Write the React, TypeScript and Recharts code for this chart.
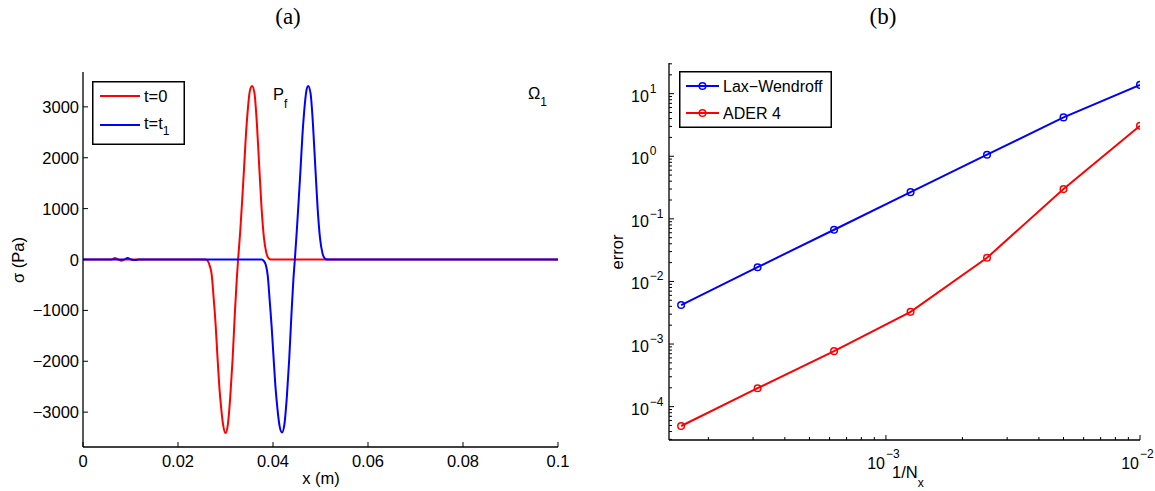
import React from "react";
import { LineChart, Line, XAxis, YAxis, Legend } from "recharts";

const SANS = '"Liberation Sans", Arial, Helvetica, sans-serif';
const SERIF = '"Liberation Serif", "Times New Roman", serif';
const RED = "#ff0000";
const BLUE = "#0000ff";
const INK = "#000";

// (a) stress sigma (Pa) along x (m), at t=0 and t=t1
const xT0 = [0, 0.006, 0.0067, 0.0074, 0.0081, 0.0088, 0.0258, 0.0263, 0.0267, 0.0271, 0.0275, 0.0279, 0.0283, 0.0287, 0.0291, 0.0295, 0.03, 0.0305, 0.031, 0.0315, 0.032, 0.0324, 0.03265, 0.0331, 0.0335, 0.0339, 0.0343, 0.0347, 0.0351, 0.0356, 0.0361, 0.0366, 0.0371, 0.0376, 0.0381, 0.0386, 0.0391, 0.0396, 0.1];
const sigmaT0 = [0, 0, 30, 0, -25, 0, 0, -30, -130, -300, -750, -1250, -1900, -2500, -2930, -3250, -3410, -3240, -2700, -1950, -1000, -350, 0, 550, 1150, 1780, 2450, 2950, 3300, 3410, 3270, 2680, 1830, 1000, 420, 130, 20, 0, 0];
const xT1 = [0, 0.0086, 0.0094, 0.0101, 0.011, 0.0118, 0.0376, 0.0381, 0.0385, 0.0389, 0.0393, 0.0397, 0.0401, 0.0405, 0.0409, 0.0414, 0.0419, 0.0424, 0.0429, 0.0434, 0.0439, 0.0443, 0.0446, 0.045, 0.0454, 0.0458, 0.0462, 0.0466, 0.047, 0.0474, 0.0479, 0.0484, 0.0489, 0.0494, 0.0499, 0.0504, 0.0509, 0.0514, 0.1];
const sigmaT1 = [0, 0, 30, 0, -12, 0, 0, -30, -110, -320, -800, -1300, -1900, -2480, -2900, -3280, -3400, -3240, -2720, -1980, -1050, -380, 0, 550, 1150, 1780, 2450, 2950, 3300, 3410, 3270, 2680, 1830, 1000, 420, 130, 20, 0, 0];
const xTicksA = [0, 0.02, 0.04, 0.06, 0.08, 0.1];
const yTicksA = [-3000, -2000, -1000, 0, 1000, 2000, 3000];

// (b) error against 1/Nx
const invNx = [1.5625e-4, 3.125e-4, 6.25e-4, 1.25e-3, 2.5e-3, 5e-3, 1e-2];
const errLaxWendroff = [4.2e-3, 1.69e-2, 6.7e-2, 0.267, 1.06, 4.18, 13.8];
const errAder4 = [4.9e-5, 1.97e-4, 7.7e-4, 3.27e-3, 2.39e-2, 0.299, 3.07];

const X_DOMAIN_B = [1.4e-4, 1e-2];
const Y_DOMAIN_B = [2.93e-5, 30.9];

function logTicks(lo: number, hi: number) {
  const out: number[] = [];
  for (let d = Math.floor(Math.log10(lo)); d <= Math.ceil(Math.log10(hi)); d++) {
    for (let m = 1; m <= 9; m++) {
      const v = Number((m * Math.pow(10, d)).toPrecision(3));
      if (v >= lo && v <= hi) out.push(v);
    }
  }
  return out;
}
const isDecade = (v: number) => Math.abs(Math.log10(v) - Math.round(Math.log10(v))) < 1e-6;
const fmtNum = (v: number) => (v < 0 ? "\u2212" + Math.abs(v) : String(Number(v.toFixed(2))));
const fmtExp = (e: number) => (e < 0 ? "\u2212" + Math.abs(e) : String(e));

const dataT0 = xT0.map((x, i) => ({ x, sigma: sigmaT0[i] }));
const dataT1 = xT1.map((x, i) => ({ x, sigma: sigmaT1[i] }));
const dataB = invNx.map((h, i) => ({ h, lw: errLaxWendroff[i], ader: errAder4[i] }));
const xTicksB = logTicks(X_DOMAIN_B[0], X_DOMAIN_B[1]);
const yTicksB = logTicks(Y_DOMAIN_B[0], Y_DOMAIN_B[1]);

// ---- tick renderers (MATLAB style: ticks point inward) ----
const BottomTickA = ({ x, y, payload }: any) => (
  <g>
    <line x1={x} y1={y} x2={x} y2={y - 5} stroke={INK} />
    <text x={x} y={y + 20} textAnchor="middle" fontSize={16.5} fontFamily={SANS} fill={INK}>
      {fmtNum(payload.value)}
    </text>
  </g>
);
const LeftTickA = ({ x, y, payload }: any) => (
  <g>
    <line x1={x} y1={y} x2={x + 5} y2={y} stroke={INK} />
    <text x={x - 4} y={y + 6} textAnchor="end" fontSize={16.5} fontFamily={SANS} fill={INK}>
      {fmtNum(payload.value)}
    </text>
  </g>
);
const TopTick = ({ x, y, payload, len }: any) => {
  const l = len ?? (isDecade(payload.value) ? 5 : 3);
  return <line x1={x} y1={y} x2={x} y2={y + l} stroke={INK} />;
};
const RightTick = ({ x, y, payload, len }: any) => {
  const l = len ?? (isDecade(payload.value) ? 5 : 3);
  return <line x1={x} y1={y} x2={x - l} y2={y} stroke={INK} />;
};
const BottomTickB = ({ x, y, payload }: any) => {
  const v = payload.value;
  const major = isDecade(v);
  return (
    <g>
      <line x1={x} y1={y} x2={x} y2={y - (major ? 5 : 3)} stroke={INK} />
      {major && (
        <g fontFamily={SANS} fill={INK}>
          <text x={x - 1} y={y + 29} textAnchor="end" fontSize={16}>10</text>
          <text x={x} y={y + 18} fontSize={12}>{fmtExp(Math.round(Math.log10(v)))}</text>
        </g>
      )}
    </g>
  );
};
const LeftTickB = ({ x, y, payload }: any) => {
  const v = payload.value;
  const major = isDecade(v);
  return (
    <g>
      <line x1={x} y1={y} x2={x + (major ? 5 : 3)} y2={y} stroke={INK} />
      {major && (
        <text x={x - 38} y={y + 8} fontSize={16} fontFamily={SANS} fill={INK}>
          10
          <tspan dx={1} dy={-9} fontSize={12}>{fmtExp(Math.round(Math.log10(v)))}</tspan>
        </text>
      )}
    </g>
  );
};

// ---- legends ----
const LegendA = () => (
  <svg width={93} height={64}>
    <rect x={0.75} y={0.75} width={91.5} height={62.5} fill="#fff" stroke={INK} strokeWidth={1.5} />
    <line x1={8} y1={15} x2={48} y2={15} stroke={RED} strokeWidth={2} />
    <line x1={8} y1={44} x2={48} y2={44} stroke={BLUE} strokeWidth={2} />
    <g fontFamily={SANS} fontSize={16.5} fill={INK}>
      <text x={52} y={21}>t=0</text>
      <text x={52} y={48}>
        t=t<tspan dy={6} fontSize={12}>1</tspan>
      </text>
    </g>
  </svg>
);
const LegendB = () => (
  <svg width={153} height={57}>
    <rect x={0.75} y={0.75} width={151.5} height={55.5} fill="#fff" stroke={INK} strokeWidth={1.5} />
    <line x1={7} y1={15} x2={40} y2={15} stroke={BLUE} strokeWidth={2} />
    <circle cx={23.5} cy={15} r={3.3} fill="none" stroke={BLUE} strokeWidth={1.5} />
    <line x1={7} y1={42} x2={40} y2={42} stroke={RED} strokeWidth={2} />
    <circle cx={23.5} cy={42} r={3.3} fill="none" stroke={RED} strokeWidth={1.5} />
    <g fontFamily={SANS} fontSize={16} fill={INK}>
      <text x={44} y={21}>Lax{"\u2212"}Wendroff</text>
      <text x={44} y={48}>ADER 4</text>
    </g>
  </svg>
);

const axisLine = { stroke: INK, strokeWidth: 1.3 };

function PanelA() {
  return (
    <LineChart width={580} height={491} margin={{ top: 72, right: 22, bottom: 0, left: 0 }}>
      <XAxis xAxisId="b" dataKey="x" type="number" domain={[0, 0.1]} ticks={xTicksA} interval={0}
        allowDataOverflow height={44} tickSize={0} tickMargin={0} tickLine={false} axisLine={axisLine}
        tick={(p: any) => <BottomTickA {...p} />} />
      <XAxis xAxisId="t" orientation="top" dataKey="x" type="number" domain={[0, 0.1]} ticks={xTicksA} interval={0}
        allowDataOverflow height={0} tickSize={0} tickMargin={0} tickLine={false} axisLine={axisLine}
        tick={(p: any) => <TopTick {...p} len={5} />} />
      <YAxis yAxisId="l" type="number" domain={[-3685, 3685]} ticks={yTicksA} interval={0}
        allowDataOverflow width={83} tickSize={0} tickMargin={0} tickLine={false} axisLine={axisLine}
        tick={(p: any) => <LeftTickA {...p} />} />
      <YAxis yAxisId="r" orientation="right" type="number" domain={[-3685, 3685]} ticks={yTicksA} interval={0}
        allowDataOverflow width={0} tickSize={0} tickMargin={0} tickLine={false} axisLine={axisLine}
        tick={(p: any) => <RightTick {...p} len={5} />} />
      <Line xAxisId="b" yAxisId="l" data={dataT0} dataKey="sigma" name="t=0" type="monotone"
        stroke={RED} strokeWidth={2} dot={false} isAnimationActive={false} />
      <Line xAxisId="b" yAxisId="l" data={dataT1} dataKey="sigma" name="t=t1" type="monotone"
        stroke={BLUE} strokeWidth={2} dot={false} isAnimationActive={false} />
      <Legend layout="horizontal" verticalAlign="middle" align="center" content={() => <LegendA />}
        wrapperStyle={{ position: "absolute", left: 92, top: 81, width: 93, height: 64, lineHeight: 0 }} />
    </LineChart>
  );
}

function PanelB() {
  const dot = (c: string) => ({ r: 3.3, stroke: c, strokeWidth: 1.5, fill: "none" });
  return (
    <LineChart width={575} height={491} data={dataB} margin={{ top: 63, right: 15, bottom: 0, left: 0 }}>
      <XAxis xAxisId="b" dataKey="h" type="number" scale="log" domain={X_DOMAIN_B} ticks={xTicksB} interval={0}
        allowDataOverflow height={51} tickSize={0} tickMargin={0} tickLine={false} axisLine={axisLine}
        tick={(p: any) => <BottomTickB {...p} />} />
      <XAxis xAxisId="t" orientation="top" dataKey="h" type="number" scale="log" domain={X_DOMAIN_B} ticks={xTicksB}
        interval={0} allowDataOverflow height={0} tickSize={0} tickMargin={0} tickLine={false} axisLine={axisLine}
        tick={(p: any) => <TopTick {...p} />} />
      <YAxis yAxisId="l" type="number" scale="log" domain={Y_DOMAIN_B} ticks={yTicksB} interval={0}
        allowDataOverflow width={89} tickSize={0} tickMargin={0} tickLine={false} axisLine={axisLine}
        tick={(p: any) => <LeftTickB {...p} />} />
      <YAxis yAxisId="r" orientation="right" type="number" scale="log" domain={Y_DOMAIN_B} ticks={yTicksB}
        interval={0} allowDataOverflow width={0} tickSize={0} tickMargin={0} tickLine={false} axisLine={axisLine}
        tick={(p: any) => <RightTick {...p} />} />
      <Line xAxisId="b" yAxisId="l" dataKey="lw" name="Lax-Wendroff" type="linear" stroke={BLUE} strokeWidth={2}
        dot={dot(BLUE)} isAnimationActive={false} />
      <Line xAxisId="b" yAxisId="l" dataKey="ader" name="ADER 4" type="linear" stroke={RED} strokeWidth={2}
        dot={dot(RED)} isAnimationActive={false} />
      <Legend layout="horizontal" verticalAlign="middle" align="center" content={() => <LegendB />}
        wrapperStyle={{ position: "absolute", left: 99, top: 71, width: 153, height: 57, lineHeight: 0 }} />
    </LineChart>
  );
}

export default function App() {
  return (
    <div style={{ position: "absolute", left: 0, top: 0, width: 1155, height: 491, background: "#fff" }}>
      <div style={{ position: "absolute", left: 0, top: 0 }}>
        <PanelA />
      </div>
      <div style={{ position: "absolute", left: 580, top: 0 }}>
        <PanelB />
      </div>
      <svg width={1155} height={491} style={{ position: "absolute", left: 0, top: 0, pointerEvents: "none" }}>
        <g fontFamily={SERIF} fontSize={23} fill={INK} textAnchor="middle">
          <text x={288} y={24}>(a)</text>
          <text x={883} y={24}>(b)</text>
        </g>
        <g fontFamily={SANS} fontSize={16.5} fill={INK}>
          <text x={321} y={484} textAnchor="middle">x (m)</text>
          <text transform="translate(24,260) rotate(-90)" textAnchor="middle">σ (Pa)</text>
          <text transform="translate(623,252) rotate(-90)" textAnchor="middle">error</text>
          <text x={892} y={478}>
            1/N<tspan dy={9} fontSize={12}>x</tspan>
          </text>
          <text x={273} y={100}>
            P<tspan dy={8} fontSize={12}>f</tspan>
          </text>
          <text x={528} y={99}>
            Ω<tspan dy={7} fontSize={12}>1</tspan>
          </text>
        </g>
      </svg>
    </div>
  );
}
